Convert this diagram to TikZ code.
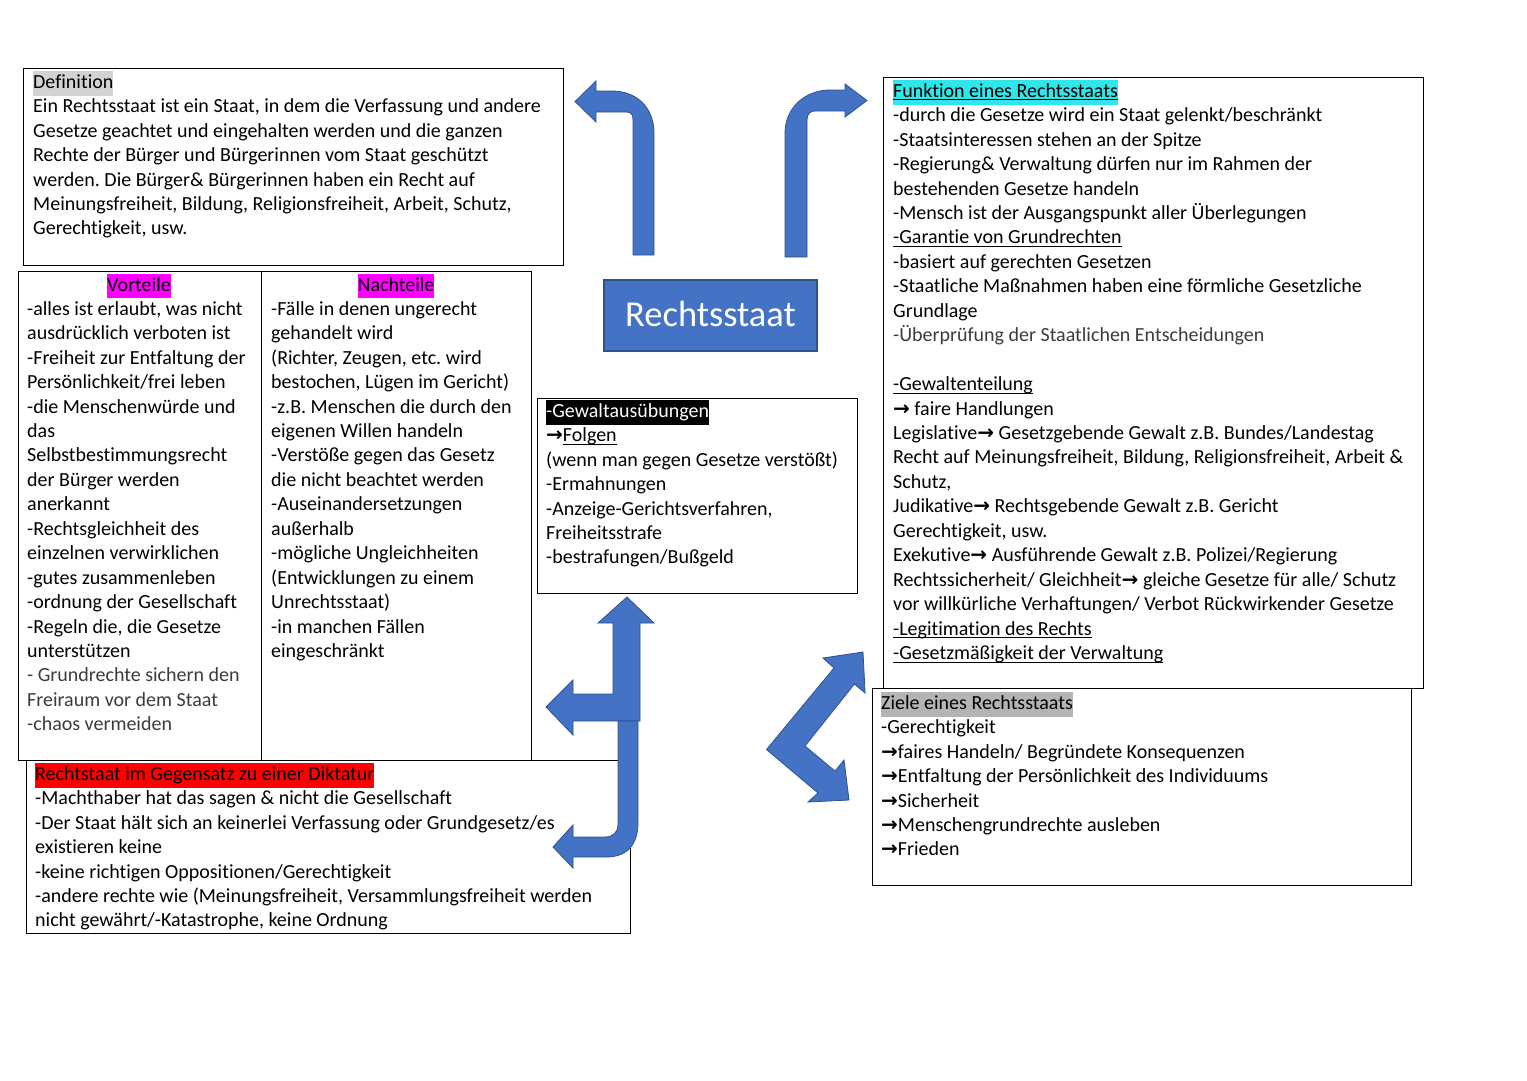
\documentclass[tikz,border=0pt]{standalone}
\usepackage{fontspec}
\setmainfont{Carlito}[Ligatures=NoCommon]
\newfontfamily\arrowfont{DejaVu Sans}
\definecolor{blueA}{HTML}{4472C4}
\definecolor{blueB}{HTML}{2F528F}
\definecolor{hlgray}{HTML}{D3D3D3}
\definecolor{hlgrayB}{HTML}{B4B4B4}
\definecolor{hlcyan}{HTML}{2FE6EA}
\definecolor{hlmag}{HTML}{FF00FF}
\definecolor{hlred}{HTML}{FF0000}
\definecolor{softtxt}{HTML}{3C3C3C}
\frenchspacing
\newcommand\hlbox[2]{{\setlength{\fboxsep}{0pt}\colorbox{#1}{\strut #2}}}
\newcommand\ra{{\arrowfont\bfseries →}}
\newsavebox\ulnbox
\newcommand\uln[1]{\leavevmode\sbox\ulnbox{#1}\rlap{\rule[-3pt]{\wd\ulnbox}{1pt}}\usebox\ulnbox}
\begin{document}
\begin{tikzpicture}[x=1pt,y=-1pt,
  panel/.style={draw=black, line width=1.1pt, fill=white, inner sep=0pt, anchor=north west},
  txt/.style={anchor=north west, inner sep=0pt, align=left, font=\fontsize{20}{24.45}\selectfont},
  ttl/.style={anchor=base, inner sep=0pt, font=\fontsize{20}{24.45}\selectfont},
  mainbox/.style={draw=blueB, fill=blueA, line width=1.2pt, minimum width=213pt, minimum height=71pt, inner sep=0pt, text=white, font=\fontsize{36.5}{40}\selectfont},
  blockarrow/.style={fill=blueA, draw=blueB, line width=0.8pt, line join=miter}]
\useasboundingbox (0,0) rectangle (1527,1080);
\fill[white] (0,0) rectangle (1527,1080);

% boxes
\node[panel, minimum width=540pt, minimum height=197pt] (defbox) at (23,68) {};
\node[panel, minimum width=540pt, minimum height=611pt] (funbox) at (883,77) {};
\node[panel, minimum width=539pt, minimum height=197pt] (zielbox) at (872,688) {};
\node[panel, minimum width=243pt, minimum height=489pt] (vorbox) at (18,271) {};
\node[panel, minimum width=270pt, minimum height=489pt] (nachbox) at (261,271) {};
\node[panel, minimum width=604pt, minimum height=173pt] (dikbox) at (26,760) {};
\node[panel, minimum width=320pt, minimum height=195pt] (gewbox) at (537,398) {};
\node[mainbox] (rs) at (710.5,315.5) {\raisebox{3pt}{Rechtsstaat}};

% texts
\node[txt] (deftxt) at (33,70.9) {\hlbox{hlgray}{Definition}\\
Ein Rechtsstaat ist ein Staat, in dem die Verfassung und andere\\
Gesetze geachtet und eingehalten werden und die ganzen\\
Rechte der Bürger und Bürgerinnen vom Staat geschützt\\
werden. Die Bürger\& Bürgerinnen haben ein Recht auf\\
Meinungsfreiheit, Bildung, Religionsfreiheit, Arbeit, Schutz,\\
Gerechtigkeit, usw.};

\node[ttl] (vorttl) at (139,291) {\hlbox{hlmag}{Vorteile}};
\node[txt] (vortxt) at (27,297.9) {\strut-alles ist erlaubt, was nicht\\
ausdrücklich verboten ist\\
-Freiheit zur Entfaltung der\\
Persönlichkeit/frei leben\\
-die Menschenwürde und\\
das\\
Selbstbestimmungsrecht\\
der Bürger werden\\
anerkannt\\
-Rechtsgleichheit des\\
einzelnen verwirklichen\\
-gutes zusammenleben\\
-ordnung der Gesellschaft\\
-Regeln die, die Gesetze\\
unterstützen\\
\textcolor{softtxt}{- Grundrechte sichern den}\\
\textcolor{softtxt}{Freiraum vor dem Staat}\\
\textcolor{softtxt}{-chaos vermeiden}};

\node[ttl] (nachttl) at (396,291) {\hlbox{hlmag}{Nachteile}};
\node[txt] (nachtxt) at (271,297.9) {\strut-Fälle in denen ungerecht\\
gehandelt wird\\
(Richter, Zeugen, etc. wird\\
bestochen, Lügen im Gericht)\\
-z.B. Menschen die durch den\\
eigenen Willen handeln\\
-Verstöße gegen das Gesetz\\
die nicht beachtet werden\\
-Auseinandersetzungen\\
außerhalb\\
-mögliche Ungleichheiten\\
(Entwicklungen zu einem\\
Unrechtsstaat)\\
-in manchen Fällen\\
eingeschränkt};

\node[txt] (gewtxt) at (546,399.9) {\hlbox{black}{\textcolor{white}{-Gewaltausübungen}}\\
\ra\uln{Folgen}\\
(wenn man gegen Gesetze verstößt)\\
-Ermahnungen\\
-Anzeige-Gerichtsverfahren,\\
Freiheitsstrafe\\
-bestrafungen/Bußgeld};

\node[txt] (diktxt) at (35,762.9) {\hlbox{hlred}{Rechtstaat im Gegensatz zu einer Diktatur}\\
-Machthaber hat das sagen \& nicht die Gesellschaft\\
-Der Staat hält sich an keinerlei Verfassung oder Grundgesetz/es\\
existieren keine\\
-keine richtigen Oppositionen/Gerechtigkeit\\
-andere rechte wie (Meinungsfreiheit, Versammlungsfreiheit werden\\
nicht gewährt/-Katastrophe, keine Ordnung};

\node[txt] (funtxt) at (893,79.9) {\hlbox{hlcyan}{\uln{Funktion eines Rechtsstaats}}\\
-durch die Gesetze wird ein Staat gelenkt/beschränkt\\
-Staatsinteressen stehen an der Spitze\\
-Regierung\& Verwaltung dürfen nur im Rahmen der\\
bestehenden Gesetze handeln\\
-Mensch ist der Ausgangspunkt aller Überlegungen\\
\uln{-Garantie von Grundrechten}\\
-basiert auf gerechten Gesetzen\\
-Staatliche Maßnahmen haben eine förmliche Gesetzliche\\
Grundlage\\
\textcolor{softtxt}{-Überprüfung der Staatlichen Entscheidungen}\\
\strut\\
\uln{-Gewaltenteilung}\\
\ra{} faire Handlungen\\
Legislative\ra{} Gesetzgebende Gewalt z.B. Bundes/Landestag\\
Recht auf Meinungsfreiheit, Bildung, Religionsfreiheit, Arbeit \&\\
Schutz,\\
Judikative\ra{} Rechtsgebende Gewalt z.B. Gericht\\
Gerechtigkeit, usw.\\
Exekutive\ra{} Ausführende Gewalt z.B. Polizei/Regierung\\
Rechtssicherheit/ Gleichheit\ra{} gleiche Gesetze für alle/ Schutz\\
vor willkürliche Verhaftungen/ Verbot Rückwirkender Gesetze\\
\uln{-Legitimation des Rechts}\\
\uln{-Gesetzmäßigkeit der Verwaltung}};

\node[txt] (zieltxt) at (881,691.9) {\hlbox{hlgrayB}{Ziele eines Rechtsstaats}\\
-Gerechtigkeit\\
\ra faires Handeln/ Begründete Konsequenzen\\
\ra Entfaltung der Persönlichkeit des Individuums\\
\ra Sicherheit\\
\ra Menschengrundrechte ausleben\\
\ra Frieden};

% block arrows
% top-left bent arrow
\draw[blockarrow] (633,255) -- (633,120) .. controls (633,114) and (631,112) .. (626,112)
  -- (596,112) -- (596,122) -- (575,101.5) -- (596,81) -- (596,91) -- (612,91)
  .. controls (637,91) and (654,108) .. (654,133) -- (654,255) -- cycle;
% top-right bent arrow
\draw[blockarrow] (785,257) -- (785,133) .. controls (785,108) and (805,90) .. (830,90)
  -- (845,90) -- (845,84) -- (867,100.5) -- (845,117) -- (845,111) -- (815,111)
  .. controls (810,111) and (807,114) .. (807,120) -- (807,257) -- cycle;
% left-up arrow
\draw[blockarrow] (613,694) -- (613,623) -- (598,623) -- (627,597) -- (654,623) -- (640,623)
  -- (640,721) -- (573,721) -- (573,735) -- (546,707) -- (573,680) -- (573,694) -- cycle;
% down-left bent arrow
\draw[blockarrow] (618,721) -- (638,721) -- (638,822) .. controls (638,844) and (628,857) .. (606,857)
  -- (573,857) -- (573,868) -- (553,847) -- (573,825) -- (573,837) -- (605,837)
  .. controls (613,837) and (618,832) .. (618,825) -- cycle;
% double angled arrow
\draw[blockarrow] (766.5,749.5) -- (834,668) -- (823,658) -- (863,652) -- (865.1,693)
  -- (854.4,684) -- (805,746) -- (835,771) -- (844,760) -- (849,800) -- (808,802)
  -- (818,793) -- cycle;
\end{tikzpicture}
\end{document}
